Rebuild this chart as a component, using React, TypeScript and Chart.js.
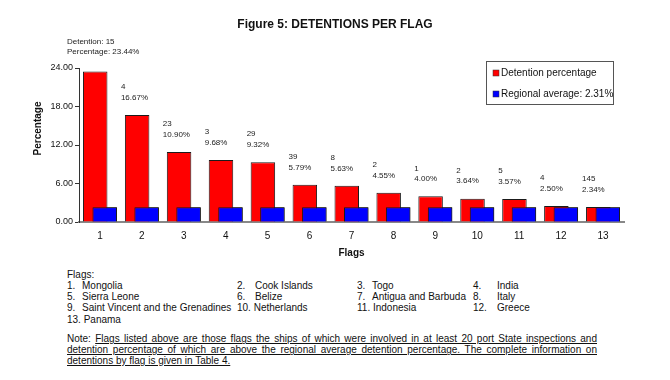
import React, { useEffect, useRef } from 'react';
import { Chart, registerables } from 'chart.js';

Chart.register(...registerables);

const FONT = "Arial, 'Liberation Sans', Helvetica, sans-serif";

// ---- Data ----
const titleText = 'Figure 5: DETENTIONS PER FLAG';
const categories = ['1', '2', '3', '4', '5', '6', '7', '8', '9', '10', '11', '12', '13'];
const flagNames = [
  'Mongolia', 'Cook Islands', 'Togo', 'India',
  'Sierra Leone', 'Belize', 'Antigua and Barbuda', 'Italy',
  'Saint Vincent and the Grenadines', 'Netherlands', 'Indonesia', 'Greece',
  'Panama',
];
const detentions = [15, 4, 23, 3, 29, 39, 8, 2, 1, 2, 5, 4, 145];
const detentionPct = [23.44, 16.67, 10.9, 9.68, 9.32, 5.79, 5.63, 4.55, 4.0, 3.64, 3.57, 2.5, 2.34];
const regionalAverage = 2.31;
const regionalAvgSeries = [2.31, 2.31, 2.31, 2.31, 2.31, 2.31, 2.31, 2.31, 2.31, 2.31, 2.31, 2.31, 2.31];
const yMin = 0;
const yMax = 24;
const yStep = 6;
const yTitle = 'Percentage';
const xTitle = 'Flags';
const seriesLabels = ['Detention percentage', `Regional average: ${regionalAverage.toFixed(2)}%`];
const noteLines = [
  'Flags listed above are those flags the ships of which were involved in at least 20 port State inspections and',
  'detention percentage of which are above the regional average detention percentage. The complete information on',
  'detentions by flag is given in Table 4.',
];

const TEXT = '#111';

// Draw the regional-average bars on top of the detention bars (they overlap)
const overlayPlugin = {
  id: 'overlayBlue',
  afterDatasetsDraw(chart: any) {
    const ctx = chart.ctx;
    const area = chart.chartArea;
    ctx.save();
    ctx.beginPath();
    ctx.rect(area.left, area.top - 5, area.right - area.left, area.bottom - area.top + 5);
    ctx.clip();
    chart.getDatasetMeta(1).data.forEach((el: any) => el.draw(ctx, area));
    ctx.restore();
  },
};

const barLabelPlugin = {
  id: 'barLabels',
  afterDatasetsDraw(chart: any) {
    const ctx = chart.ctx;
    const meta = chart.getDatasetMeta(0);
    ctx.save();
    ctx.font = `8px ${FONT}`;
    ctx.fillStyle = '#222';
    ctx.textBaseline = 'middle';
    ctx.textAlign = 'left';
    meta.data.forEach((bar: any, i: number) => {
      const { x, y, width } = bar.getProps(['x', 'y', 'width'], true);
      const left = x - width / 2;
      const pct = detentionPct[i].toFixed(2) + '%';
      if (i === 0) {
        ctx.fillText(`Detention: ${detentions[i]}`, left - 16, y - 30);
        ctx.fillText(`Percentage: ${pct}`, left - 16, y - 20);
      } else {
        ctx.fillText(String(detentions[i]), left - 4, y - 28);
        ctx.fillText(pct, left - 4, y - 17.5);
      }
    });
    ctx.restore();
  },
};

const extrasPlugin = {
  id: 'extras',
  afterDraw(chart: any) {
    const ctx = chart.ctx;
    const area = chart.chartArea;
    // y-axis title
    ctx.save();
    ctx.translate(area.left - 41, area.top + 60.5);
    ctx.rotate(-Math.PI / 2);
    ctx.font = `bold 10px ${FONT}`;
    ctx.fillStyle = TEXT;
    ctx.textAlign = 'center';
    ctx.textBaseline = 'middle';
    ctx.fillText(yTitle, 0, 0);
    ctx.restore();

    // legend box
    ctx.save();
    ctx.font = `10px ${FONT}`;
    const datasets = chart.data.datasets;
    const maxW = Math.max(...datasets.map((d: any) => ctx.measureText(d.label).width));
    const w = Math.round(maxW + 15);
    const h = 43;
    const right = area.right - 11;
    const left = Math.round(right - w);
    const top = Math.round(area.top - 7);
    ctx.fillStyle = '#fff';
    ctx.fillRect(left, top, w, h);
    ctx.strokeStyle = '#555';
    ctx.lineWidth = 1;
    ctx.strokeRect(left + 0.5, top + 0.5, w, h);
    datasets.forEach((d: any, i: number) => {
      const yc = top + 12 + i * 21;
      ctx.fillStyle = d.backgroundColor;
      ctx.fillRect(left + 7, yc - 3, 6, 6);
      ctx.strokeStyle = '#333';
      ctx.lineWidth = 0.5;
      ctx.strokeRect(left + 7, yc - 3, 6, 6);
      ctx.fillStyle = TEXT;
      ctx.textAlign = 'left';
      ctx.textBaseline = 'middle';
      ctx.fillText(d.label, left + 15, yc + 0.5);
    });
    ctx.restore();
  },
};

const numX = [67, 237, 357, 473];
const nameX = [82, 255, 372, 497];
const listTop = 268.5;
const rowH = 11.3;

export default function App() {
  const canvasRef = useRef<HTMLCanvasElement | null>(null);

  useEffect(() => {
    const canvas = canvasRef.current;
    if (!canvas) return;
    const chart = new Chart(canvas, {
      type: 'bar',
      data: {
        labels: categories,
        datasets: [
          {
            label: seriesLabels[0],
            data: detentionPct,
            backgroundColor: '#ff0000',
            borderColor: '#1a1a1a',
            borderWidth: 1,
            categoryPercentage: 0.453,
            barPercentage: 2.58,
          },
          {
            label: seriesLabels[1],
            data: regionalAvgSeries,
            backgroundColor: '#0000ff',
            borderColor: '#1a1a1a',
            borderWidth: 1,
            categoryPercentage: 0.453,
            barPercentage: 2.58,
          },
        ],
      },
      options: {
        responsive: false,
        animation: false,
        devicePixelRatio: 1,
        layout: { padding: 0 },
        plugins: {
          legend: { display: false },
          tooltip: { enabled: false },
          title: {
            display: true,
            text: titleText,
            color: TEXT,
            font: { family: FONT, size: 12, weight: 'bold' },
            padding: { top: 17, bottom: 36.6 },
          },
        },
        scales: {
          x: {
            grid: { display: false, drawTicks: false },
            border: { display: true, color: '#888', width: 2 },
            ticks: { color: TEXT, font: { family: FONT, size: 10 }, padding: 8 },
            title: {
              display: true,
              text: xTitle,
              color: TEXT,
              font: { family: FONT, size: 10, weight: 'bold' },
              padding: { top: 0, bottom: 3 },
            },
            afterFit: (s: any) => {
              s.height = 40;
            },
          },
          y: {
            min: yMin,
            max: yMax,
            ticks: {
              stepSize: yStep,
              color: TEXT,
              font: { family: FONT, size: 9 },
              padding: 2,
              callback: (v: any) => Number(v).toFixed(2),
            },
            grid: { display: true, drawOnChartArea: false, drawTicks: true, tickLength: 4, color: '#333' },
            border: { display: true, color: '#333', width: 1 },
            afterFit: (s: any) => {
              s.width = 79;
            },
          },
          yR: {
            type: 'linear',
            position: 'right',
            display: true,
            grid: { display: false, drawTicks: false },
            border: { display: false },
            ticks: { display: false },
            afterFit: (s: any) => {
              s.width = 46;
            },
          },
        },
      } as any,
      plugins: [overlayPlugin, barLabelPlugin, extrasPlugin],
    });
    return () => chart.destroy();
  }, []);

  const textStyle: React.CSSProperties = {
    position: 'absolute',
    fontFamily: FONT,
    fontSize: '10px',
    lineHeight: '12px',
    color: TEXT,
    whiteSpace: 'nowrap',
  };

  const listItems: React.ReactNode[] = [];
  flagNames.forEach((name, i) => {
    const row = Math.floor(i / 4) + 1;
    const col = i % 4;
    const num = `${i + 1}.`;
    const top = listTop + row * rowH;
    if (i + 1 >= 10 && col < 3) {
      listItems.push(
        <div key={`f${i}`} style={{ ...textStyle, left: numX[col], top }}>
          {num} {name}
        </div>
      );
    } else {
      listItems.push(
        <div key={`n${i}`} style={{ ...textStyle, left: numX[col], top }}>
          {num}
        </div>
      );
      listItems.push(
        <div key={`m${i}`} style={{ ...textStyle, left: nameX[col], top }}>
          {name}
        </div>
      );
    }
  });

  const noteTops = [333.3, 344.3, 355];

  return (
    <div
      style={{
        position: 'absolute',
        left: 0,
        top: 0,
        width: 670,
        height: 380,
        background: '#fff',
        overflow: 'hidden',
      }}
    >
      <canvas
        ref={canvasRef}
        width={670}
        height={262}
        style={{ position: 'absolute', left: 0, top: 0, width: 670, height: 262 }}
      />
      <div style={{ ...textStyle, left: 67, top: listTop }}>Flags:</div>
      {listItems}
      {noteLines.map((line, i) => (
        <div
          key={`note${i}`}
          style={{
            ...textStyle,
            left: 67,
            top: noteTops[i],
            width: i < 2 ? 530 : undefined,
            whiteSpace: 'normal',
            textAlign: i < 2 ? 'justify' : 'left',
            textAlignLast: i < 2 ? 'justify' : 'left',
          } as React.CSSProperties}
        >
          {i === 0 ? 'Note: ' : ''}
          <span style={{ textDecoration: 'underline' }}>{line}</span>
        </div>
      ))}
    </div>
  );
}
